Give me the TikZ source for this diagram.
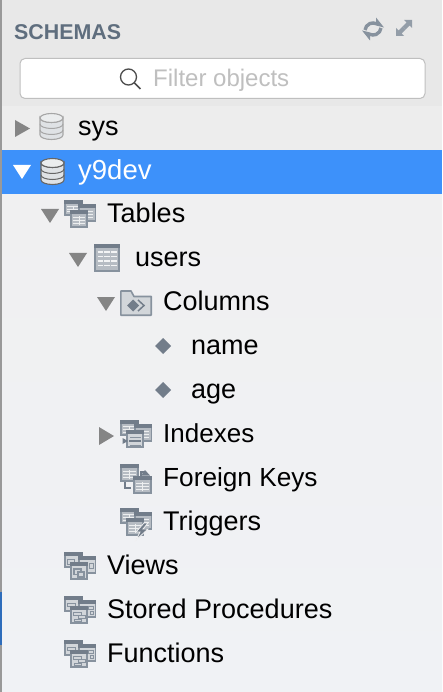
\documentclass[tikz,border=0pt]{standalone}
\usepackage{fontspec}
\setmainfont{Liberation Sans}
\definecolor{hdr}{HTML}{E8E8E8}
\definecolor{treebg}{HTML}{F0F0F1}
\definecolor{treebot}{HTML}{F0F2F5}
\definecolor{sel}{HTML}{3D91FA}
\definecolor{tri}{HTML}{858585}
\definecolor{iconedge}{HTML}{87929E}
\definecolor{iconfill}{HTML}{D2D6DA}
\definecolor{gridfill}{HTML}{B6BCC3}
\definecolor{icondark}{HTML}{727D8A}
\definecolor{titlecol}{HTML}{5F6E7E}
\tikzset{
  rowlabel/.style={anchor=base west,inner sep=0pt,yshift=-0.6pt,font=\fontsize{27}{30}\selectfont,text=black},
  tritri/.style={fill=tri,draw=none},
  winbox/.style={draw=iconedge,fill=iconfill,line width=1.6pt},
  winhead/.style={fill=icondark,draw=none},
  gridln/.style={draw=white!85!iconedge,line width=1pt},
  detail/.style={draw=iconedge,line width=1pt},
  dbcyl/.style={draw=#1,fill=iconfill!70!white,line width=1.1pt}
}
\newcommand{\wnd}[4]{% x y w h
  \path[winbox] (#1,#2) rectangle ++(#3,#4);
  \path[winhead] (#1-0.8,#2-0.8) rectangle ++(#3+1.6,4.2);
}
\newcommand{\gridwnd}[4]{% x y w h
  \path[winbox,fill=gridfill] (#1,#2) rectangle ++(#3,#4);
  \path[winhead] (#1-0.8,#2-0.8) rectangle ++(#3+1.6,4.2);
  \foreach \f in {0.40,0.60,0.80}{\draw[gridln] (#1+2,#2+#4*\f) -- ++(#3-4,0);}
  \draw[gridln] (#1+#3*0.5,#2+5.5) -- ++(0,#4-7.5);
}
\newcommand{\backwins}{%
  \gridwnd{0.8}{0.8}{17}{14}
  \gridwnd{15}{4.8}{16.4}{16.4}
}
\newcommand{\cyl}[3]{% x y edgecolour
  \begin{scope}[shift={(#1,#2)}]
    \draw[dbcyl=#3] (0,5) -- (0,22) arc[start angle=180,end angle=0,x radius=11.5,y radius=4.5]
      -- (23,5) arc[start angle=0,end angle=180,x radius=11.5,y radius=4.5] -- cycle;
    \draw[dbcyl=#3,fill=iconfill!45!white] (11.5,5) ellipse[x radius=11.5,y radius=4.5];
    \draw[draw=#3,line width=1pt] (0,11) arc[start angle=180,end angle=0,x radius=11.5,y radius=4.5];
    \draw[draw=#3,line width=1pt] (0,17) arc[start angle=180,end angle=0,x radius=11.5,y radius=4.5];
  \end{scope}
}
\begin{document}
\begin{tikzpicture}[x=1pt,y=-1pt]
\useasboundingbox (0,0) rectangle (442,692);
% backgrounds
\fill[hdr] (0,0) rectangle (442,106);
\shade[top color=treebg,bottom color=treebot] (0,194) rectangle (442,692);
\fill[white!93!black] (0,106) rectangle (442,150);
\fill[sel] (0,150) rectangle (442,194);
\fill[white!60!black] (0,0) rectangle (2,692);
\fill[sel!75!black] (0,592) rectangle (2,645);
% header
\node[anchor=base west,inner sep=0pt,font=\bfseries\fontsize{21.4}{24}\selectfont,text=titlecol] (title) at (14,40) {SCHEMAS};
% refresh icon
\begin{scope}[shift={(373,29)}]
  \draw[iconedge,line width=3.4pt] (-8,1) arc[start angle=187,end angle=295,radius=8];
  \draw[iconedge,line width=3.4pt] (8,-1) arc[start angle=7,end angle=115,radius=8];
  \fill[iconedge] (3,-11.5) -- (11,-1.5) -- (3,-3.5) -- cycle;
  \fill[iconedge] (-3,11.5) -- (-11,1.5) -- (-3,3.5) -- cycle;
\end{scope}
% expand icon
\begin{scope}[shift={(404,28)}]
  \fill[iconedge!90!white] (8,-8) -- (8,0) -- (5.5,-2.5) -- (1.5,1.5) -- (-1.5,-1.5) -- (2.5,-5.5) -- (0,-8) -- cycle;
  \fill[iconedge!90!white] (-8,8) -- (-8,0) -- (-5.5,2.5) -- (-1.5,-1.5) -- (1.5,1.5) -- (-2.5,5.5) -- (0,8) -- cycle;
\end{scope}
% filter box
\node[draw=white!75!black,fill=white,rounded corners=5pt,line width=1pt,minimum width=405pt,minimum height=40pt,inner sep=0pt,anchor=north west] (filterbox) at (19.5,58) {};
\draw[black!70,line width=1.3pt] (128.5,77) circle[radius=8];
\draw[black!70,line width=1.5pt] (134.5,83) -- (140.5,89);
\node[anchor=base west,inner sep=0pt,font=\fontsize{24}{28}\selectfont,text=white!75!black] (filtertext) at (153,87) {Filter objects};
% triangles
\fill[tritri] (15,120) -- (30,128.5) -- (15,137) -- cycle;
\fill[white] (13,165) -- (31,165) -- (22,179) -- cycle;
\fill[tritri] (41,209) -- (59,209) -- (50,223) -- cycle;
\fill[tritri] (69,253) -- (87,253) -- (78,267) -- cycle;
\fill[tritri] (97,297) -- (115,297) -- (106,311) -- cycle;
\fill[tritri] (99,427) -- (114,436) -- (99,445) -- cycle;
% databases
\cyl{40}{113}{white!65!black}
\cyl{41}{158}{black!60}
% labels
\node[rowlabel] (sys) at (78,135) {sys};
\node[rowlabel,text=white,font=\fontsize{27.5}{30}\selectfont] (y9dev) at (78,179) {y9dev};
\node[rowlabel] (tables) at (107,222) {Tables};
\node[rowlabel] (users) at (135,266) {users};
\node[rowlabel] (columns) at (163,310) {Columns};
\node[rowlabel] (name) at (191,354) {name};
\node[rowlabel] (age) at (191,398) {age};
\node[rowlabel,font=\fontsize{26}{30}\selectfont] (indexes) at (163,442) {Indexes};
\node[rowlabel,font=\fontsize{26.2}{30}\selectfont] (foreign) at (163,486) {Foreign Keys};
\node[rowlabel] (triggers) at (163,530) {Triggers};
\node[rowlabel] (views) at (107,574) {Views};
\node[rowlabel] (procs) at (107,618) {Stored Procedures};
\node[rowlabel] (funcs) at (107,662) {Functions};
% Tables icon
\begin{scope}[shift={(64,200)}]
  \backwins
  \gridwnd{6.8}{10.8}{16.4}{16.4}
\end{scope}
% users icon
\begin{scope}[shift={(94,244)}]
  \path[winbox,fill=gridfill] (0.8,0.8) rectangle ++(24.4,26.4);
  \path[winhead] (0,0) rectangle ++(26,4.5);
  \foreach \yy in {8,12.5,17,21.5}{\draw[white!90!iconedge,line width=1.6pt] (3.5,\yy) -- (22.5,\yy);}
  \draw[gridfill,line width=1.2pt] (9.5,6) -- (9.5,24);
  \draw[gridfill,line width=1.2pt] (16.5,6) -- (16.5,24);
\end{scope}
% Columns folder
\begin{scope}[shift={(120,290)}]
  \draw[winbox,line join=round] (0.8,25.2) -- (0.8,1) -- (11,1) -- (14,6.5) -- (31.2,6.5) -- (31.2,25.2) -- cycle;
  \fill[icondark] (13,9.5) -- (19,15.5) -- (13,21.5) -- (7,15.5) -- cycle;
  \draw[icondark,line width=1.5pt] (18,10) -- (24,15.5) -- (18,21);
\end{scope}
% column diamonds
\fill[icondark] (163,338) -- (171,346) -- (163,354) -- (155,346) -- cycle;
\fill[icondark] (163,382) -- (171,390) -- (163,398) -- (155,390) -- cycle;
% Indexes icon
\begin{scope}[shift={(120,420)}]
  \backwins
  \wnd{6.8}{10.8}{16.4}{16.4}
  \draw[detail] (10,17) -- (21,17);
  \draw[icondark,line width=1.6pt] (9,21) -- (21,21);
  \draw[detail] (10,25) -- (21,25);
  \fill[icondark] (2.5,18) -- (8,21) -- (2.5,24) -- cycle;
\end{scope}
% Foreign Keys icon
\begin{scope}[shift={(120,464)}]
  \gridwnd{0.8}{0.8}{17}{16}
  \draw[icondark,line width=1.4pt] (5,18) -- (5,24) -- (11,24);
  \gridwnd{13.8}{12.8}{17}{16.4}
  \draw[icondark,line width=1.4pt] (21,12) -- (21,8) -- (24,8);
  \fill[icondark] (25,6) -- (30,11.5) -- (21,11.5) -- cycle;
\end{scope}
% Triggers icon
\begin{scope}[shift={(120,508)}]
  \backwins
  \gridwnd{6.8}{10.8}{16.4}{16.4}
  \fill[icondark,draw=treebg,line width=0.8pt] (24,15) -- (16,24) -- (20,24) -- (16,32) -- (28,21) -- (23,21) -- (28,15) -- cycle;
\end{scope}
% Views icon
\begin{scope}[shift={(64,552)}]
  \wnd{0.8}{0.8}{17}{14}
  \draw[detail] (3,7) rectangle ++(7,5);
  \wnd{15}{4.8}{16.4}{16.4}
  \draw[detail] (25,11) rectangle ++(4,5);
  \wnd{6.8}{10.8}{16.4}{16.4}
  \draw[detail,fill=iconfill,line width=1.2pt] (10,17) rectangle ++(7,5.5);
  \draw[detail,fill=iconfill,line width=1.2pt] (14,20) rectangle ++(6,5);
\end{scope}
% Stored Procedures icon
\begin{scope}[shift={(64,596)}]
  \wnd{0.8}{0.8}{17}{14}
  \draw[detail] (3,7) rectangle ++(8,3.5);
  \wnd{15}{4.8}{16.4}{16.4}
  \draw[detail] (24,10) rectangle ++(5,3);
  \draw[detail] (26,15.5) rectangle ++(3,3);
  \wnd{6.8}{10.8}{16.4}{16.4}
  \draw[detail] (9.5,16) rectangle ++(8,3);
  \draw[detail] (14,19.5) rectangle ++(7,3);
  \draw[detail] (10,23) rectangle ++(7,2.5);
\end{scope}
% Functions icon
\begin{scope}[shift={(64,640)}]
  \wnd{0.8}{0.8}{17}{14}
  \draw[detail] (3,7) rectangle ++(8,3.5);
  \wnd{15}{4.8}{16.4}{16.4}
  \draw[detail] (24,10) rectangle ++(5,3);
  \draw[detail] (26,15.5) rectangle ++(3,3);
  \wnd{6.8}{10.8}{16.4}{16.4}
  \draw[detail] (9.5,16) rectangle ++(8,3);
  \draw[detail] (14,19.5) rectangle ++(7,3);
  \draw[detail] (10,23) rectangle ++(7,2.5);
\end{scope}
\end{tikzpicture}
\end{document}
